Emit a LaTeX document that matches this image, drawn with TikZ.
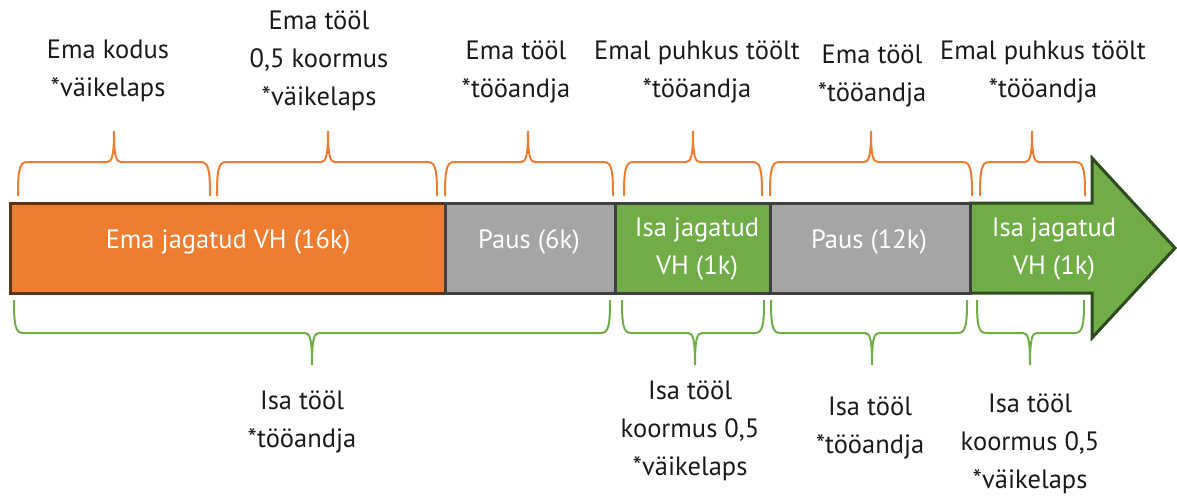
\documentclass[tikz,border=0pt]{standalone}
\usepackage{fontspec}
\setmainfont{PT Sans}
\definecolor{orng}{HTML}{ED7D31}
\definecolor{grn}{HTML}{70AD47}
\definecolor{gry}{HTML}{A5A5A5}
\definecolor{outl}{HTML}{404040}
\definecolor{orngdark}{HTML}{5A3414}
\definecolor{grndark}{HTML}{2E4A1E}
\definecolor{txt}{HTML}{1A1A1A}
\tikzset{
  bar/.style={draw=outl, line width=3pt, minimum height=90pt, inner sep=0pt, outer sep=0pt, anchor=west},
  lbl/.style={align=center, font=\fontsize{26.5}{38}\selectfont, text=txt, inner sep=0pt},
  bartext/.style={align=center, font=\fontsize{26.5}{38}\selectfont, text=white, inner sep=0pt},
  obr/.style={draw=orng, line width=2pt},
  gbr/.style={draw=grn, line width=2pt}
}
\newcommand\bracetop[4]{%
  \draw[#1] (#2,196) .. controls (#2,172) and (#2+1,162) .. (#2+9,162) -- (#3-7,162)
    .. controls (#3-2,162) and (#3,156) .. (#3,131)
    .. controls (#3,156) and (#3+2,162) .. (#3+7,162) -- (#4-9,162)
    .. controls (#4-1,162) and (#4,172) .. (#4,196);}
\newcommand\bracebot[4]{%
  \draw[#1] (#2,300) .. controls (#2,324) and (#2+1,333) .. (#2+9,333) -- (#3-7,333)
    .. controls (#3-2,333) and (#3,339) .. (#3,365)
    .. controls (#3,339) and (#3+2,333) .. (#3+7,333) -- (#4-9,333)
    .. controls (#4-1,333) and (#4,324) .. (#4,300);}
\begin{document}
\begin{tikzpicture}[x=1pt,y=-1pt]
\useasboundingbox (0,0) rectangle (1177,496);
% arrow
\draw[draw=grndark, fill=grn, line width=3pt, line join=miter]
  (970,203) -- (1092,203) -- (1092,158) -- (1175,248) -- (1092,338) -- (1092,293) -- (970,293) -- cycle;
% boxes
\node[bar, fill=orng, draw=orngdark, minimum width=435pt] (ema) at (10,248) {};
\node[bar, fill=gry, minimum width=170pt] (paus1) at (445,248) {};
\node[bar, fill=grn, minimum width=155pt] (isa1) at (615,248) {};
\node[bar, fill=gry, minimum width=200pt] (paus2) at (770,248) {};
% box texts
\node[bartext] (t1) at (228,242) {Ema jagatud VH (16k)};
\node[bartext] (t2) at (529,242) {Paus (6k)};
\node[bartext] (t3) at (697,249) {Isa jagatud\\VH (1k)};
\node[bartext] (t4) at (869,242) {Paus (12k)};
\node[bartext] (t5) at (1054,249) {Isa jagatud\\VH (1k)};
% top braces
\bracetop{obr}{18}{114}{210}
\bracetop{obr}{217}{328}{437}
\bracetop{obr}{445}{528}{613}
\bracetop{obr}{624}{693}{762}
\bracetop{obr}{770}{871}{972}
\bracetop{obr}{980}{1032}{1085}
% bottom braces
\bracebot{gbr}{14}{312}{610}
\bracebot{gbr}{622}{695}{764}
\bracebot{gbr}{771}{872}{967}
\bracebot{gbr}{977}{1030}{1084}
% top labels
\node[lbl] (l1) at (108,71) {Ema kodus\\*väikelaps};
\node[lbl] (l2) at (319,61) {Ema tööl\\0,5 koormus\\*väikelaps};
\node[lbl] (l3) at (516,72) {Ema tööl\\*tööandja};
\node[lbl] (l4) at (697,72) {Emal puhkus töölt\\*tööandja};
\node[lbl] (l5) at (872,76) {Ema tööl\\*tööandja};
\node[lbl] (l6) at (1043,72) {Emal puhkus töölt\\*tööandja};
% bottom labels
\node[lbl] (b1) at (302,422) {Isa tööl\\*tööandja};
\node[lbl] (b2) at (690,431) {Isa tööl\\koormus 0,5\\*väikelaps};
\node[lbl] (b3) at (870,428) {Isa tööl\\*tööandja};
\node[lbl] (b4) at (1030,444) {Isa tööl\\koormus 0,5\\*väikelaps};
\end{tikzpicture}
\end{document}
